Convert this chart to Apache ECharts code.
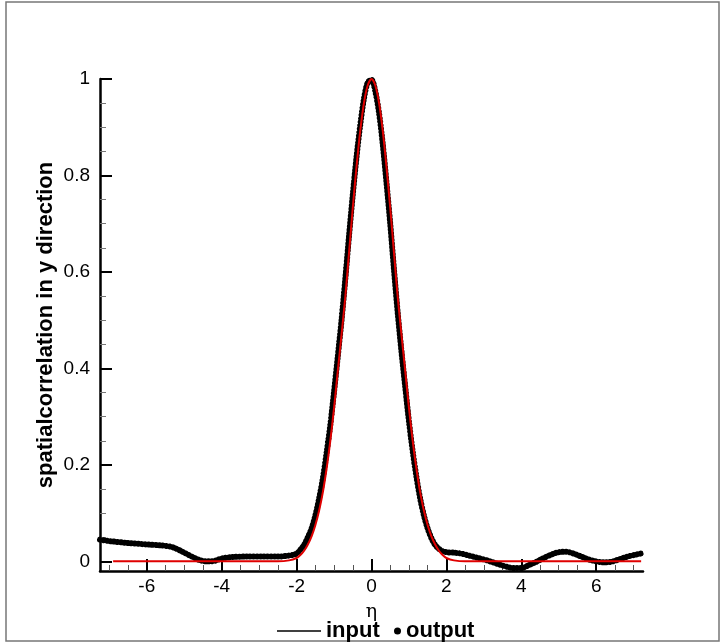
<!DOCTYPE html>
<html>
<head>
<meta charset="utf-8">
<script src="https://cdn.jsdelivr.net/npm/echarts@6/dist/echarts.min.js"></script>
<style>
  html, body { margin: 0; padding: 0; background: #fff; }
  #main { width: 721px; height: 644px; }
</style>
</head>
<body>
<div id="main"></div>
<script>
  // input (red) correlation
  var etaIn = [-6.9, -6, -5, -4, -3, -2.5, -2.2, -2.0, -1.9, -1.8, -1.7, -1.6, -1.5, -1.4, -1.3, -1.2, -1.1, -1.0,
    -0.9, -0.8, -0.7, -0.6, -0.5, -0.4, -0.3, -0.2, -0.1, 0, 0.1, 0.2, 0.3, 0.4, 0.5, 0.6, 0.7, 0.8, 0.9, 1.0,
    1.1, 1.2, 1.3, 1.4, 1.5, 1.6, 1.7, 1.8, 1.9, 2.0, 2.2, 2.5, 3, 4, 5, 6, 7.2];
  var corrIn = [0, 0, 0, 0, 0, 0, 0.002, 0.007, 0.013, 0.022, 0.035, 0.052, 0.075, 0.105, 0.143, 0.192, 0.250, 0.318,
    0.395, 0.470, 0.548, 0.640, 0.733, 0.818, 0.893, 0.951, 0.987, 1.0, 0.987, 0.951, 0.893, 0.818, 0.733, 0.640, 0.548, 0.470, 0.395, 0.318,
    0.250, 0.192, 0.143, 0.105, 0.075, 0.052, 0.035, 0.022, 0.013, 0.007, 0.002, 0, 0, 0, 0, 0, 0];

  // output (black dots)
  var etaOut = [-7.25, -7.0, -6.5, -6.0, -5.6, -5.3, -5.0, -4.8, -4.6, -4.4, -4.2, -4.0, -3.7, -3.3, -2.9, -2.5, -2.2,
    -2.0, -1.9, -1.8, -1.7, -1.6, -1.5, -1.4, -1.3, -1.2, -1.1, -1.0, -0.9, -0.8, -0.7, -0.6, -0.5, -0.4, -0.3, -0.2, -0.1,
    0, 0.1, 0.2, 0.3, 0.4, 0.5, 0.6, 0.7, 0.8, 0.9, 1.0, 1.1, 1.2, 1.3, 1.4, 1.5, 1.6, 1.7, 1.8, 1.9, 2.0,
    2.2, 2.4, 2.6, 2.8, 3.0, 3.2, 3.4, 3.6, 3.8, 4.0, 4.2, 4.4, 4.6, 4.8, 5.0, 5.2, 5.4, 5.6, 5.8, 6.0, 6.2, 6.4, 6.6, 6.8, 7.0, 7.25];
  var corrOut = [0.045, 0.042, 0.038, 0.035, 0.033, 0.029, 0.018, 0.010, 0.003, 0.000, 0.001, 0.006, 0.009, 0.010, 0.010, 0.010, 0.012,
    0.016, 0.024, 0.034, 0.050, 0.068, 0.095, 0.130, 0.172, 0.225, 0.283, 0.352, 0.425, 0.500, 0.585, 0.675, 0.760, 0.838, 0.905, 0.960, 0.993,
    0.998, 0.975, 0.930, 0.865, 0.785, 0.700, 0.605, 0.515, 0.435, 0.362, 0.290, 0.228, 0.175, 0.130, 0.095, 0.068, 0.048, 0.034, 0.026, 0.021, 0.019,
    0.018, 0.016, 0.012, 0.008, 0.004, -0.001, -0.006, -0.011, -0.014, -0.014, -0.008, -0.001, 0.007, 0.014, 0.019, 0.020, 0.016, 0.010, 0.004, 0.000, -0.002, -0.001, 0.004, 0.009, 0.013, 0.017];

  var xTicks = [-6, -4, -2, 0, 2, 4, 6];
  var xMinor = [-7, -6.5, -5.5, -5, -4.5, -3.5, -3, -2.5, -1.5, -1, -0.5, 0.5, 1, 1.5, 2.5, 3, 3.5, 4.5, 5, 5.5, 6.5, 7];
  var yTicks = [0, 0.2, 0.4, 0.6, 0.8, 1];
  var yMinor = [0.05, 0.1, 0.15, 0.25, 0.3, 0.35, 0.45, 0.5, 0.55, 0.65, 0.7, 0.75, 0.85, 0.9, 0.95];

  function pairs(xs, ys) {
    var res = [];
    for (var i = 0; i < xs.length; i++) res.push([xs[i], ys[i]]);
    return res;
  }

  var chart = echarts.init(document.getElementById('main'));
  var font = 'Liberation Sans, Arial, Helvetica, sans-serif';

  var option = {
    backgroundColor: '#fff',
    animation: false,
    graphic: [{
      type: 'rect',
      shape: { x: 6, y: 2, width: 713, height: 639 },
      style: { fill: 'none', stroke: '#777', lineWidth: 1.5 },
      silent: true
    }],
    grid: { left: 100, right: 78, top: 79, bottom: 73 },
    legend: [{
      data: ['input'],
      left: 272, top: 615,
      icon: 'rect', itemWidth: 44, itemHeight: 1.5,
      itemStyle: { color: '#000' },
      textStyle: { fontFamily: font, fontWeight: 'bold', fontSize: 22, color: '#000' }
    }, {
      data: ['output'],
      left: 389, top: 615,
      icon: 'circle', itemWidth: 7, itemHeight: 7,
      itemStyle: { color: '#000' },
      textStyle: { fontFamily: font, fontWeight: 'bold', fontSize: 22, color: '#000' }
    }],
    xAxis: [{
      type: 'value', min: -7.25, max: 7.25,
      name: 'η', nameLocation: 'middle', nameGap: 32,
      nameTextStyle: { fontFamily: 'DejaVu Serif, serif', fontSize: 19, color: '#000' },
      splitLine: { show: false },
      axisLine: { onZero: false, lineStyle: { color: '#000', width: 2.5 } },
      axisTick: { inside: true, length: 12, customValues: xTicks, lineStyle: { color: '#000', width: 2 } },
      axisLabel: { customValues: xTicks, margin: 6, fontFamily: font, fontSize: 19, color: '#000' }
    }, {
      type: 'value', min: -7.25, max: 7.25, position: 'bottom',
      splitLine: { show: false },
      axisLine: { show: false, onZero: false },
      axisTick: { inside: true, length: 6, customValues: xMinor, lineStyle: { color: '#555', width: 1 } },
      axisLabel: { show: false }
    }],
    yAxis: [{
      type: 'value', min: -0.02, max: 1,
      name: 'spatialcorrelation in y direction', nameLocation: 'middle', nameGap: 43,
      nameMoveOverlap: false,
      nameTextStyle: { fontFamily: font, fontWeight: 'bold', fontSize: 22, color: '#000' },
      splitLine: { show: false },
      axisLine: { onZero: false, lineStyle: { color: '#000', width: 2.5 } },
      axisTick: { inside: true, length: 12, customValues: yTicks, lineStyle: { color: '#000', width: 2 } },
      axisLabel: { customValues: yTicks, margin: 10, fontFamily: font, fontSize: 19, color: '#000' }
    }, {
      type: 'value', min: -0.02, max: 1, position: 'left',
      splitLine: { show: false },
      axisLine: { show: false, onZero: false },
      axisTick: { inside: true, length: 6, customValues: yMinor, lineStyle: { color: '#777', width: 1 } },
      axisLabel: { show: false }
    }],
    series: [{
      name: 'output',
      type: 'line',
      xAxisIndex: 0, yAxisIndex: 0,
      data: pairs(etaOut, corrOut),
      smooth: 0.3,
      showSymbol: false,
      itemStyle: { color: '#000' },
      lineStyle: { color: '#000', width: 6, type: [0.1, 3.4], cap: 'round' },
      z: 2
    }, {
      // solid core under the dots so the flat tails read as a thick band
      name: 'output',
      type: 'line',
      xAxisIndex: 0, yAxisIndex: 0,
      data: pairs(etaOut, corrOut),
      smooth: 0.3,
      showSymbol: false,
      itemStyle: { color: '#000' },
      lineStyle: { color: '#000', width: 4 },
      z: 2
    }, {
      name: 'input',
      type: 'line',
      xAxisIndex: 0, yAxisIndex: 0,
      data: pairs(etaIn, corrIn),
      smooth: 0.3,
      showSymbol: false,
      itemStyle: { color: '#e00000' },
      lineStyle: { color: '#e00000', width: 2 },
      z: 3
    }]
  };
  chart.setOption(option);
</script>
</body>
</html>
